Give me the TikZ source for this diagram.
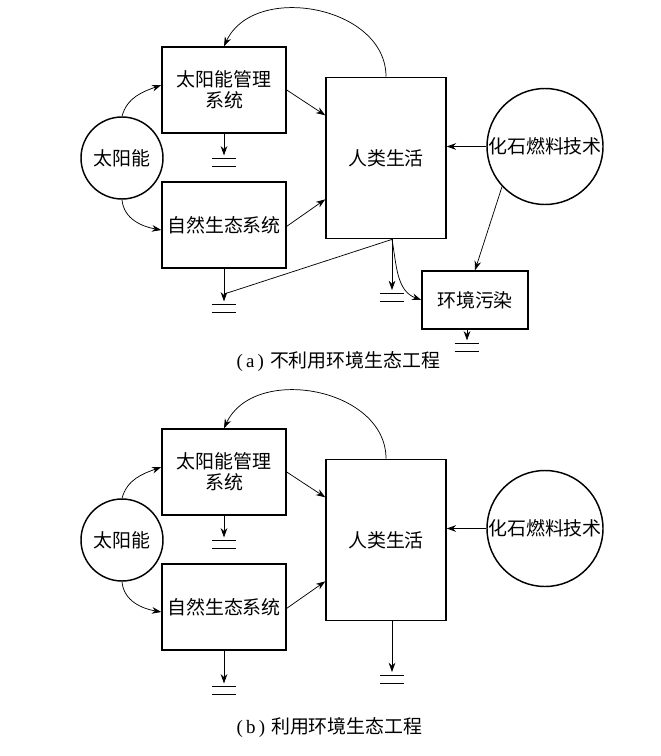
\documentclass[tikz,border=0pt]{standalone}
\usepackage{fontspec}
\setmainfont{Liberation Serif}
\newfontfamily\cjk{Noto Sans CJK SC}
\usetikzlibrary{arrows.meta,positioning}

\tikzset{
  box/.style={rectangle, draw, line width=1.1pt, inner sep=0pt, align=center,
    font=\cjk\fontsize{14.2}{16}\selectfont},
  sysbox/.style={box, minimum width=93pt, minimum height=64.5pt},
  lifebox/.style={box, minimum width=90pt, minimum height=121pt},
  pollbox/.style={box, minimum width=79.5pt, minimum height=43.5pt},
  src/.style={circle, draw, line width=1.1pt, inner sep=0pt,
    font=\cjk\fontsize{14.2}{16}\selectfont},
  flow/.style={-{Stealth[length=7pt,width=5pt]}, line width=0.55pt},
  sink/.style={flow, shorten >=2.5pt},
  gnd/.style={inner sep=0pt, minimum width=18pt, minimum height=5.5pt,
    append after command={(\tikzlastnode.north west) edge[line width=0.9pt] (\tikzlastnode.north east)
      (\tikzlastnode.south west) edge[line width=0.9pt] (\tikzlastnode.south east)}},
  caption/.style={anchor=west, font=\fontsize{14.2}{16}\selectfont}
}

\begin{document}
\begin{tikzpicture}[x=0.75pt, y=-0.75pt]
  \useasboundingbox (0,0) rectangle (660,756);

  % (a) top panel
  \node[src, minimum size=61.5pt] (sunA) at (122,158) {太阳能};
  \node[sysbox] (mgmtA) at (224,90) {太阳能管理\\系统};
  \node[sysbox] (natA) at (224,225) {自然生态系统};
  \node[lifebox] (lifeA) at (386,158) {人类生活};
  \node[src, minimum size=87pt] (fossilA) at (545,146.5) {化石燃料技术};
  \node[pollbox] (pollA) at (475,300) {环境污染};

  \node[gnd, below=18.75pt of mgmtA] (gndA1) {};
  \node[gnd, below=27pt of natA] (gndA2) {};
  \node[gnd, below=40.5pt of lifeA, xshift=4.5pt] (gndA3) {};
  \node[gnd, below=10.5pt of pollA, xshift=-6pt] (gndA4) {};
  \coordinate (outA) at ([xshift=4.5pt]lifeA.south);

  \draw[flow] (sunA.north) to[out=75, in=200] ([yshift=3.75pt]mgmtA.west);
  \draw[flow] (sunA.south) to[out=-85, in=170] ([yshift=-3.75pt]natA.west);
  \draw[flow] (mgmtA.east) -- ([yshift=32pt]lifeA.west);
  \draw[flow] ([yshift=-1pt]natA.east) -- ([yshift=-31pt]lifeA.west);
  \draw[flow] (lifeA.north) to[out=90, in=65, looseness=1.1] (mgmtA.north);
  \draw[flow] (fossilA.west) -- (fossilA.west -| lifeA.east);
  \draw[flow] (fossilA.223) -- (pollA.north);
  \draw[flow] (outA) to[out=-80, in=160] (pollA.west);
  \draw[line width=0.55pt] (outA) -- ([yshift=8pt]gndA2.north);

  \draw[sink] (mgmtA.south) -- (gndA1.north);
  \draw[sink] (natA.south) -- (gndA2.north);
  \draw[sink] (outA) -- (gndA3.north);
  \draw[sink] ([xshift=-6pt]pollA.south) -- (gndA4.north);

  \node[caption] (capA) at (232,362) {(\,a\,)\hspace{4.5pt}{\cjk 不利用环境生态工程}};

  % (b) bottom panel
  \node[src, minimum size=61.5pt] (sunB) at (122,540) {太阳能};
  \node[sysbox] (mgmtB) at (224,472) {太阳能管理\\系统};
  \node[sysbox] (natB) at (224,607) {自然生态系统};
  \node[lifebox] (lifeB) at (386,540) {人类生活};
  \node[src, minimum size=87pt] (fossilB) at (545,528.5) {化石燃料技术};

  \node[gnd, below=18.75pt of mgmtB] (gndB1) {};
  \node[gnd, below=27pt of natB] (gndB2) {};
  \node[gnd, below=40.5pt of lifeB, xshift=4.5pt] (gndB3) {};
  \coordinate (outB) at ([xshift=4.5pt]lifeB.south);

  \draw[flow] (sunB.north) to[out=75, in=200] ([yshift=3.75pt]mgmtB.west);
  \draw[flow] (sunB.south) to[out=-85, in=170] ([yshift=-3.75pt]natB.west);
  \draw[flow] (mgmtB.east) -- ([yshift=32pt]lifeB.west);
  \draw[flow] ([yshift=-1pt]natB.east) -- ([yshift=-31pt]lifeB.west);
  \draw[flow] (lifeB.north) to[out=90, in=65, looseness=1.1] (mgmtB.north);
  \draw[flow] (fossilB.west) -- (fossilB.west -| lifeB.east);

  \draw[sink] (mgmtB.south) -- (gndB1.north);
  \draw[sink] (natB.south) -- (gndB2.north);
  \draw[sink] (outB) -- (gndB3.north);

  \node[caption] (capB) at (232,727) {(\,b\,)\hspace{4.5pt}{\cjk 利用环境生态工程}};
\end{tikzpicture}
\end{document}
